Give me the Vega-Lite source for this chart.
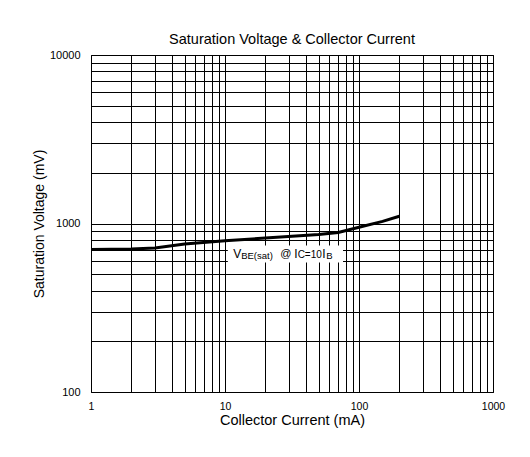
{
  "$schema": "https://vega.github.io/schema/vega-lite/v6.json",
  "autosize": "none",
  "width": 402,
  "height": 337,
  "padding": {"left": 91, "top": 55, "right": 37, "bottom": 65},
  "background": "white",
  "config": {
    "font": "Liberation Sans",
    "view": {"stroke": "black", "strokeWidth": 1}
  },
  "title": {
    "text": "Saturation Voltage & Collector Current",
    "fontSize": 14.5,
    "fontWeight": "normal",
    "color": "black",
    "offset": 2,
    "anchor": "middle"
  },
  "datasets": {
    "curve": [
      {"ic": 1, "v": 700},
      {"ic": 2, "v": 705},
      {"ic": 3, "v": 715},
      {"ic": 5, "v": 755},
      {"ic": 10, "v": 790},
      {"ic": 20, "v": 820},
      {"ic": 50, "v": 860},
      {"ic": 70, "v": 885},
      {"ic": 100, "v": 950},
      {"ic": 150, "v": 1030},
      {"ic": 200, "v": 1105}
    ],
    "note": [
      {"ic": 11.5, "v": 655, "x1": 10.5, "x2": 76, "y1": 740, "y2": 586}
    ]
  },
  "layer": [
    {
      "data": {"name": "curve"},
      "mark": {"type": "line", "color": "black", "strokeWidth": 3, "clip": true},
      "encoding": {
        "x": {
          "field": "ic", "type": "quantitative",
          "scale": {"type": "log", "domain": [1, 1000], "nice": false},
          "axis": {
            "title": "Collector Current (mA)",
            "titleFontSize": 14.5, "titleFontWeight": "normal", "titleColor": "black",
            "titlePadding": 2,
            "values": [1,2,3,4,5,6,7,8,9,10,20,30,40,50,60,70,80,90,100,200,300,400,500,600,700,800,900,1000],
            "labelExpr": "indexof([1,10,100,1000], datum.value) >= 0 ? datum.value : ''",
            "labelFontSize": 10.5, "labelColor": "black", "labelPadding": 9,
            "labelFlush": false, "labelOverlap": false,
            "ticks": false, "domain": false,
            "grid": true, "gridColor": "black", "gridOpacity": 1, "gridWidth": 1
          }
        },
        "y": {
          "field": "v", "type": "quantitative",
          "scale": {"type": "log", "domain": [100, 10000], "nice": false},
          "axis": {
            "title": "Saturation Voltage (mV)",
            "titleFontSize": 14, "titleFontWeight": "normal", "titleColor": "black",
            "titlePadding": 3,
            "values": [100,200,300,400,500,600,700,800,900,1000,2000,3000,4000,5000,6000,7000,8000,9000,10000],
            "labelExpr": "indexof([100,1000,10000], datum.value) >= 0 ? datum.value : ''",
            "labelFontSize": 11, "labelColor": "black", "labelPadding": 11,
            "labelFlush": false, "labelOverlap": false,
            "ticks": false, "domain": false,
            "grid": true, "gridColor": "black", "gridOpacity": 1, "gridWidth": 1
          }
        }
      }
    },
    {
      "data": {"name": "note"},
      "mark": {"type": "rect", "color": "white", "opacity": 1},
      "encoding": {
        "x": {"field": "x1", "type": "quantitative"},
        "x2": {"field": "x2"},
        "y": {"field": "y1", "type": "quantitative"},
        "y2": {"field": "y2"}
      }
    },
    {
      "data": {"name": "note"},
      "mark": {"type": "text", "text": "V", "fontSize": 12, "align": "left", "baseline": "middle", "color": "black"},
      "encoding": {"x": {"field": "ic", "type": "quantitative"}, "y": {"field": "v", "type": "quantitative"}}
    },
    {
      "data": {"name": "note"},
      "mark": {"type": "text", "text": "BE(sat)", "fontSize": 9.5, "align": "left", "baseline": "middle", "dx": 8, "dy": 1.5, "color": "black"},
      "encoding": {"x": {"field": "ic", "type": "quantitative"}, "y": {"field": "v", "type": "quantitative"}}
    },
    {
      "data": {"name": "note"},
      "mark": {"type": "text", "text": "@", "fontSize": 11, "align": "left", "baseline": "middle", "dx": 47, "color": "black"},
      "encoding": {"x": {"field": "ic", "type": "quantitative"}, "y": {"field": "v", "type": "quantitative"}}
    },
    {
      "data": {"name": "note"},
      "mark": {"type": "text", "text": "I", "fontSize": 12, "align": "left", "baseline": "middle", "dx": 61, "color": "black"},
      "encoding": {"x": {"field": "ic", "type": "quantitative"}, "y": {"field": "v", "type": "quantitative"}}
    },
    {
      "data": {"name": "note"},
      "mark": {"type": "text", "text": "C=10", "fontSize": 10, "align": "left", "baseline": "middle", "dx": 64.5, "dy": 1, "color": "black"},
      "encoding": {"x": {"field": "ic", "type": "quantitative"}, "y": {"field": "v", "type": "quantitative"}}
    },
    {
      "data": {"name": "note"},
      "mark": {"type": "text", "text": "I", "fontSize": 12, "align": "left", "baseline": "middle", "dx": 89, "color": "black"},
      "encoding": {"x": {"field": "ic", "type": "quantitative"}, "y": {"field": "v", "type": "quantitative"}}
    },
    {
      "data": {"name": "note"},
      "mark": {"type": "text", "text": "B", "fontSize": 9.5, "align": "left", "baseline": "middle", "dx": 93, "dy": 1.5, "color": "black"},
      "encoding": {"x": {"field": "ic", "type": "quantitative"}, "y": {"field": "v", "type": "quantitative"}}
    }
  ]
}
